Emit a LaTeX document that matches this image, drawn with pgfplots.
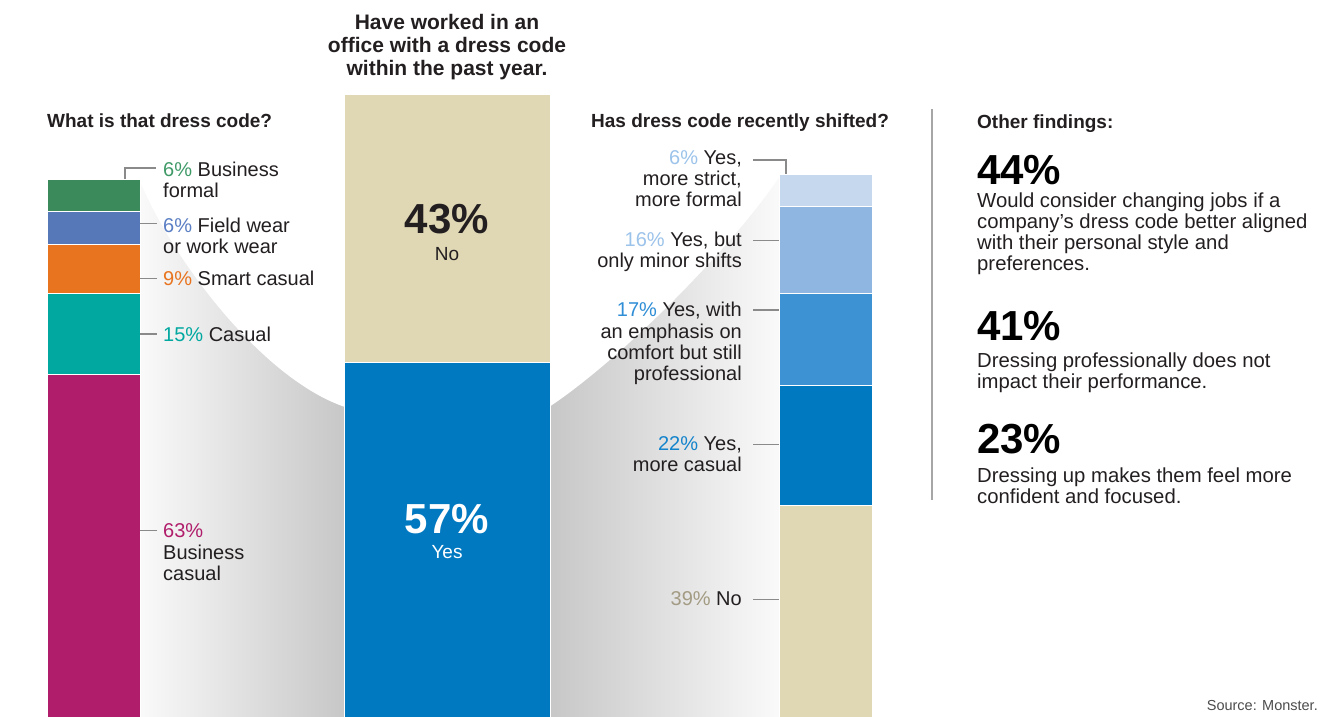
\documentclass[border=0pt]{standalone}
\usepackage{pgfplots}
\pgfplotsset{compat=1.18}
\usepackage{fontspec}
\setmainfont{Liberation Sans}
\definecolor{txt}{HTML}{231F20}
\definecolor{bizformal}{HTML}{3A8A5C}
\definecolor{fieldwear}{HTML}{5677B8}
\definecolor{smartcas}{HTML}{E8741F}
\definecolor{casual}{HTML}{00A8A0}
\definecolor{bizcas}{HTML}{B01E6B}
\definecolor{beige}{HTML}{E0D7B5}
\definecolor{blueyes}{HTML}{0079C1}
\definecolor{strict}{HTML}{C5D8EE}
\definecolor{minor}{HTML}{8FB6E0}
\definecolor{comfort}{HTML}{3C92D2}
\definecolor{lead}{HTML}{8A8A8A}
\definecolor{tgreen}{HTML}{3F9A68}
\definecolor{tblue}{HTML}{5B7FC4}
\definecolor{tlight}{HTML}{9CC3EA}
\definecolor{tmid}{HTML}{2F8ED6}
\definecolor{tdark}{HTML}{1484CC}
\definecolor{tbeige}{HTML}{A39B83}
\pgfplotsset{
  pix/.style={scale only axis, width=1320pt, height=717pt, xmin=0, xmax=1320, ymin=0, ymax=717,
    y dir=reverse, hide axis, clip=false, at={(0pt,0pt)}, anchor=south west},
  barax/.style={scale only axis, hide axis, xmin=-0.5, xmax=0.5, ymin=0, ybar stacked,
    bar width=1, anchor=south west, clip=false},
  seg/.style={fill=#1, draw=white, line width=0.7pt},
}
\tikzset{
  L/.style={anchor=base west, inner sep=0pt, text=txt, font=\fontsize{20}{24}\selectfont},
  R/.style={anchor=base east, inner sep=0pt, text=txt, font=\fontsize{20}{24}\selectfont},
  T/.style={anchor=base west, inner sep=0pt, text=txt, font=\fontsize{19}{24}\selectfont\bfseries},
  C/.style={anchor=base, inner sep=0pt, text=txt},
  ld/.style={draw=lead, line width=1.1pt},
}
\begin{document}
\begin{tikzpicture}
\useasboundingbox (0,0) rectangle (1320pt,717pt);
% background shading
\begin{axis}[pix]
\shade[left color=black!2, right color=black!22]
  (axis cs:139,170) rectangle (axis cs:345,717);
\shade[left color=black!22, right color=black!2]
  (axis cs:549,170) rectangle (axis cs:780,717);
\fill[white]
  (axis cs:139,170) -- (axis cs:139,179) .. controls (axis cs:175,265) and (axis cs:265,380) .. (axis cs:345,407)
  -- (axis cs:345,170) -- cycle;
\fill[white]
  (axis cs:549,170) -- (axis cs:549,407) .. controls (axis cs:620,360) and (axis cs:730,250) .. (axis cs:780,176)
  -- (axis cs:780,170) -- cycle;
\end{axis}
% left bar: What is that dress code?
\begin{axis}[barax, at={(47pt,0pt)}, width=93pt, height=538pt, ymax=99]
\addplot[seg=bizcas] coordinates {(0,63)};
\addplot[seg=casual] coordinates {(0,15)};
\addplot[seg=smartcas] coordinates {(0,9)};
\addplot[seg=fieldwear] coordinates {(0,6)};
\addplot[seg=bizformal] coordinates {(0,6)};
\end{axis}
% middle bar
\begin{axis}[barax, at={(344pt,0pt)}, width=206pt, height=622.5pt, ymax=100]
\addplot[seg=blueyes] coordinates {(0,57)};
\addplot[seg=beige] coordinates {(0,43)};
\end{axis}
% right bar
\begin{axis}[barax, at={(779pt,0pt)}, width=93pt, height=543pt, ymax=100]
\addplot[seg=beige] coordinates {(0,39)};
\addplot[seg=blueyes] coordinates {(0,22)};
\addplot[seg=comfort] coordinates {(0,17)};
\addplot[seg=minor] coordinates {(0,16)};
\addplot[seg=strict] coordinates {(0,6)};
\end{axis}
% text overlay
\begin{axis}[pix]
% left panel
\node[T] at (axis cs:47,127) {What is that dress code?};
\draw[ld] (axis cs:125,179) |- (axis cs:156,168);
\node[L] at (axis cs:163,176) {{\color{tgreen}6\%} Business};
\node[L] at (axis cs:163,197) {formal};
\draw[ld] (axis cs:140,223.5) -- (axis cs:157,223.5);
\node[L] at (axis cs:163,232) {{\color{tblue}6\%} Field wear};
\node[L] at (axis cs:163,253) {or work wear};
\draw[ld] (axis cs:140,278.7) -- (axis cs:157,278.7);
\node[L] at (axis cs:163,285.5) {{\color{smartcas}9\%} Smart casual};
\draw[ld] (axis cs:140,334) -- (axis cs:157,334);
\node[L] at (axis cs:163,341) {{\color{casual}15\%} Casual};
\draw[ld] (axis cs:140,530.7) -- (axis cs:157,530.7);
\node[L] at (axis cs:163,537.5) {{\color{bizcas}63\%}};
\node[L] at (axis cs:163,559) {Business};
\node[L] at (axis cs:163,580.5) {casual};
% middle panel
\node[C, font=\fontsize{21}{24}\selectfont\bfseries] at (axis cs:447,30) {Have worked in an};
\node[C, font=\fontsize{21}{24}\selectfont\bfseries] at (axis cs:447,53) {office with a dress code};
\node[C, font=\fontsize{21}{24}\selectfont\bfseries] at (axis cs:447,76) {within the past year.};
\node[C, font=\fontsize{42}{46}\selectfont\bfseries] at (axis cs:447,233) {43\%};
\node[C, font=\fontsize{19}{22}\selectfont] at (axis cs:447,260) {No};
\node[C, text=white, font=\fontsize{42}{46}\selectfont\bfseries] at (axis cs:447,533) {57\%};
\node[C, text=white, font=\fontsize{19}{22}\selectfont] at (axis cs:447,558) {Yes};
% right panel
\node[T] at (axis cs:591,127) {Has dress code recently shifted?};
\draw[ld] (axis cs:753,160) -| (axis cs:786,174);
\node[R] at (axis cs:742,164) {{\color{tlight}6\%} Yes,};
\node[R] at (axis cs:742,185.5) {more strict,};
\node[R] at (axis cs:742,206.5) {more formal};
\draw[ld] (axis cs:753,240.5) -- (axis cs:779,240.5);
\node[R] at (axis cs:742,246) {{\color{tlight}16\%} Yes, but};
\node[R] at (axis cs:742,267) {only minor shifts};
\draw[ld] (axis cs:753,310) -- (axis cs:779,310);
\node[R] at (axis cs:742,316.5) {{\color{tmid}17\%} Yes, with};
\node[R] at (axis cs:742,338) {an emphasis on};
\node[R] at (axis cs:742,359) {comfort but still};
\node[R] at (axis cs:742,380.5) {professional};
\draw[ld] (axis cs:753,444.3) -- (axis cs:779,444.3);
\node[R] at (axis cs:742,450.7) {{\color{tdark}22\%} Yes,};
\node[R] at (axis cs:742,471.7) {more casual};
\draw[ld] (axis cs:753,599.3) -- (axis cs:779,599.3);
\node[R] at (axis cs:742,605.7) {{\color{tbeige}39\%} No};
% other findings
\draw[draw=black!35, line width=1.6pt] (axis cs:932,109) -- (axis cs:932,500);
\node[T] at (axis cs:977,128) {Other findings:};
\node[L, font=\fontsize{42}{46}\selectfont\bfseries, text=black] at (axis cs:977,184) {44\%};
\node[L, font=\fontsize{20.3}{24}\selectfont] at (axis cs:977,207) {Would consider changing jobs if a};
\node[L, font=\fontsize{20.3}{24}\selectfont] at (axis cs:977,228) {company’s dress code better aligned};
\node[L, font=\fontsize{20.3}{24}\selectfont] at (axis cs:977,249) {with their personal style and};
\node[L, font=\fontsize{20.3}{24}\selectfont] at (axis cs:977,270) {preferences.};
\node[L, font=\fontsize{42}{46}\selectfont\bfseries, text=black] at (axis cs:977,340) {41\%};
\node[L, font=\fontsize{20.3}{24}\selectfont] at (axis cs:977,367) {Dressing professionally does not};
\node[L, font=\fontsize{20.3}{24}\selectfont] at (axis cs:977,388) {impact their performance.};
\node[L, font=\fontsize{42}{46}\selectfont\bfseries, text=black] at (axis cs:977,453) {23\%};
\node[L, font=\fontsize{20.3}{24}\selectfont] at (axis cs:977,482) {Dressing up makes them feel more};
\node[L, font=\fontsize{20.3}{24}\selectfont] at (axis cs:977,503) {confident and focused.};
\node[R, font=\fontsize{14.5}{17}\selectfont, text=black!70] at (axis cs:1318,710) {Source: Monster.};
\end{axis}
\end{tikzpicture}
\end{document}
